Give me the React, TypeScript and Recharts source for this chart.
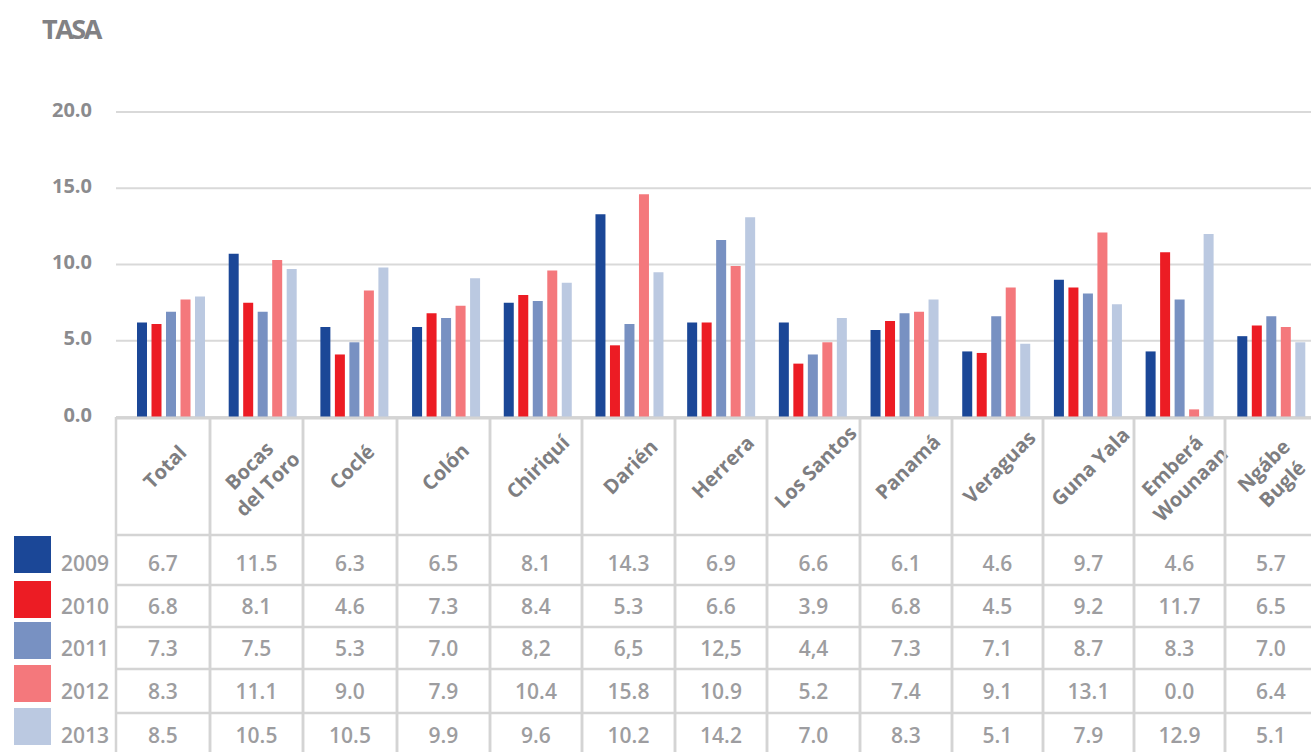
import React from 'react';
import { BarChart, Bar, XAxis, YAxis, CartesianGrid } from 'recharts';

// categories as printed in the table header ("\n" = line break)
const categories = [
  'Total', 'Bocas\ndel Toro', 'Coclé', 'Colón', 'Chiriquí', 'Darién', 'Herrera',
  'Los Santos', 'Panamá', 'Veraguas', 'Guna Yala', 'Emberá\nWounaan', 'Ngábe\nBuglé'
];

const years = ['2009', '2010', '2011', '2012', '2013'];

// bar heights as drawn against the axis
const bars2009 = [6.2, 10.7, 5.9, 5.9, 7.5, 13.3, 6.2, 6.2, 5.7, 4.3, 9.0, 4.3, 5.3];
const bars2010 = [6.1, 7.5, 4.1, 6.8, 8.0, 4.7, 6.2, 3.5, 6.3, 4.2, 8.5, 10.8, 6.0];
const bars2011 = [6.9, 6.9, 4.9, 6.5, 7.6, 6.1, 11.6, 4.1, 6.8, 6.6, 8.1, 7.7, 6.6];
const bars2012 = [7.7, 10.3, 8.3, 7.3, 9.6, 14.6, 9.9, 4.9, 6.9, 8.5, 12.1, 0.5, 5.9];
const bars2013 = [7.9, 9.7, 9.8, 9.1, 8.8, 9.5, 13.1, 6.5, 7.7, 4.8, 7.4, 12.0, 4.9];

// values printed in the table (kept as text, some use a decimal comma)
const table2009 = ['6.7', '11.5', '6.3', '6.5', '8.1', '14.3', '6.9', '6.6', '6.1', '4.6', '9.7', '4.6', '5.7'];
const table2010 = ['6.8', '8.1', '4.6', '7.3', '8.4', '5.3', '6.6', '3.9', '6.8', '4.5', '9.2', '11.7', '6.5'];
const table2011 = ['7.3', '7.5', '5.3', '7.0', '8,2', '6,5', '12,5', '4,4', '7.3', '7.1', '8.7', '8.3', '7.0'];
const table2012 = ['8.3', '11.1', '9.0', '7.9', '10.4', '15.8', '10.9', '5.2', '7.4', '9.1', '13.1', '0.0', '6.4'];
const table2013 = ['8.5', '10.5', '10.5', '9.9', '9.6', '10.2', '14.2', '7.0', '8.3', '5.1', '7.9', '12.9', '5.1'];

const yTicks = [0, 5, 10, 15, 20];

const colors = ['#1b4797', '#ec1c24', '#7891c2', '#f4787c', '#bbc9e1'];
const barSeries = [bars2009, bars2010, bars2011, bars2012, bars2013];
const tableRows = [table2009, table2010, table2011, table2012, table2013];

const data = categories.map((name, i) => {
  const row: any = { name };
  years.forEach((y, k) => { row['y' + y] = barSeries[k][i]; });
  return row;
});

const W = 1317;
const H = 760;
const PLOT_LEFT = 116;
const PLOT_TOP = 112;
const XAXIS_H = 343;
const PLOT_BOTTOM = H - XAXIS_H;

// table column edges (layout)
const colEdges = [116, 210, 303, 397, 490, 582, 675, 767, 860, 952, 1043, 1134, 1225, 1317];

const FONT = '"Open Sans", "Noto Sans", sans-serif';
const LINE = '#d4d4d4';

// row separators / text centres, relative to the table top
const rowLines = [118, 168, 210, 252, 296];
const rowText = [146, 189, 231, 274, 318];

const YTick = ({ x, y, payload }: any) => (
  <text x={x} y={y - 3} textAnchor="end" dominantBaseline="central"
    fill="#8b8b8e" fontSize={20} fontWeight={700} fontFamily={FONT}>
    {Number(payload.value).toFixed(1)}
  </text>
);

const TableColumn = (props: any) => {
  const i = props.index ?? props.payload.index;
  const left = colEdges[i];
  const right = colEdges[i + 1];
  const cx = (left + right) / 2;
  const top = PLOT_BOTTOM;
  const lines = categories[i].split('\n');
  const hx = cx + 2;
  const hy = top + (lines.length > 1 ? 58 : 50);
  return (
    <g>
      <line x1={left} x2={left} y1={top} y2={H} stroke={LINE} strokeWidth={2.5} />
      <line x1={right} x2={right} y1={top} y2={H} stroke={LINE} strokeWidth={2.5} />
      <line x1={left} x2={right} y1={top + 1} y2={top + 1} stroke={LINE} strokeWidth={3} />
      {rowLines.map((d) => (
        <line key={d} x1={left} x2={right} y1={top + d} y2={top + d} stroke={LINE} strokeWidth={2.5} />
      ))}
      <text transform={`rotate(-45 ${hx} ${hy})`} x={hx} y={hy} textAnchor="middle"
        fill="#7e7e81" fontSize={20} fontWeight={700} fontFamily={FONT}>
        {lines.map((l, k) => (
          <tspan key={k} x={hx} dy={k === 0 ? (lines.length > 1 ? -6 : 7) : 26}>{l}</tspan>
        ))}
      </text>
      {tableRows.map((row, k) => (
        <text key={k} x={cx} y={top + rowText[k]} textAnchor="middle" dominantBaseline="central"
          fill="#9d9da0" fontSize={21} fontWeight={600} fontFamily={FONT}>
          {row[i]}
        </text>
      ))}
    </g>
  );
};

const legendTop = [536, 581, 622, 665, 708];
const legendText = [563, 606, 648, 691, 735];

export default function App() {
  return (
    <div style={{ position: 'fixed', left: 0, top: 0, width: 1311, height: 752, overflow: 'hidden', background: '#fff' }}>
      <BarChart width={W} height={H} data={data} barSize={10} barGap={4.5}
        margin={{ top: PLOT_TOP, right: 0, left: 0, bottom: 0 }}>
        <CartesianGrid vertical={false} stroke="#d9d9d9" strokeWidth={2} />
        <YAxis width={PLOT_LEFT} domain={[0, 20]} ticks={yTicks} axisLine={false} tickLine={false}
          tickSize={0} tickMargin={24} tick={<YTick />} />
        <XAxis dataKey="name" height={XAXIS_H} axisLine={false} tickLine={false} tickSize={0}
          tickMargin={0} interval={0} padding={{ left: 9, right: 0 }} tick={<TableColumn />} />
        {years.map((y, k) => (
          <Bar key={y} dataKey={'y' + y} name={y} fill={colors[k]} isAnimationActive={false} />
        ))}
      </BarChart>
      <div style={{ position: 'absolute', left: 42, top: 10, fontFamily: FONT, fontWeight: 700,
        fontSize: 27, letterSpacing: -2.5, color: '#818184' }}>TASA</div>
      {years.map((y, k) => (
        <React.Fragment key={y}>
          <div style={{ position: 'absolute', left: 14, top: legendTop[k], width: 37, height: 37, background: colors[k] }} />
          <div style={{ position: 'absolute', left: 61, top: legendText[k] - 15, height: 30, lineHeight: '30px',
            fontFamily: FONT, fontWeight: 600, fontSize: 21, color: '#9d9da0' }}>{y}</div>
        </React.Fragment>
      ))}
    </div>
  );
}
